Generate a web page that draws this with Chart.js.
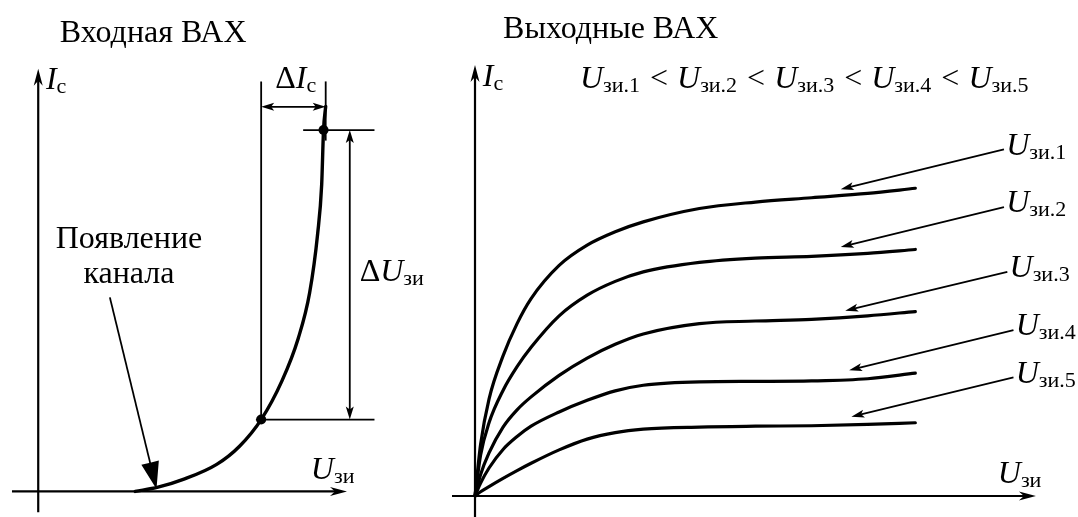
<!DOCTYPE html>
<html lang="ru">
<head>
<meta charset="utf-8">
<title>Входная и выходные ВАХ</title>
<script src="https://cdn.jsdelivr.net/npm/chart.js@4.4.1/dist/chart.umd.min.js"></script>
<style>
  html, body { margin: 0; padding: 0; background: #fff; }
  #wrap { position: relative; width: 1078px; height: 517px; overflow: hidden; }
  canvas { position: absolute; top: 0; }
  #inputChart { left: 0; }
  #outputChart { left: 440px; }
</style>
</head>
<body>
<div id="wrap">
  <canvas id="inputChart" width="440" height="517"></canvas>
  <canvas id="outputChart" width="638" height="517"></canvas>
</div>
<script>
// входная ВАХ: U зи -> I с (условные единицы)
const inputU = [3.14, 3.88, 4.72, 5.78, 6.52, 7.22, 7.89, 8.42, 8.79, 9.05, 9.18, 9.24, 9.31];
const inputI = [0, 0.10, 0.29, 0.64, 1.07, 1.70, 2.61, 3.62, 4.70, 6.10, 7.26, 8.55, 9.11];
// две отмеченные точки на кривой
const markU = [7.22, 9.24];
const markI = [1.70, 8.55];

// выходные ВАХ: U си -> I с для пяти напряжений затвора
const outputU = [0, 0.1, 0.25, 0.5, 0.75, 1, 1.5, 2, 2.5, 3, 4, 5, 6, 7, 7.85];
const outputI1 = [0, 1.2, 2.25, 3.25, 4.0, 4.58, 5.35, 5.82, 6.13, 6.36, 6.67, 6.82, 6.92, 7.02, 7.14];
const outputI2 = [0, 0.95, 1.7, 2.45, 3.0, 3.45, 4.18, 4.66, 4.98, 5.2, 5.42, 5.52, 5.56, 5.63, 5.72];
const outputI3 = [0, 0.5, 1.0, 1.6, 2.0, 2.3, 2.8, 3.2, 3.52, 3.76, 4.0, 4.06, 4.1, 4.18, 4.28];
const outputI4 = [0, 0.3, 0.65, 1.08, 1.38, 1.62, 1.95, 2.22, 2.44, 2.57, 2.65, 2.66, 2.67, 2.72, 2.85];
const outputI5 = [0, 0.1, 0.22, 0.41, 0.59, 0.76, 1.07, 1.32, 1.47, 1.55, 1.6, 1.62, 1.63, 1.66, 1.70];
const gateLabels = ['зи.1', 'зи.2', 'зи.3', 'зи.4', 'зи.5'];

const FONT = '"Liberation Serif", "DejaVu Serif", serif';
const SIZE = 32;
const SUB = 22;

function toPoints(xs, ys) {
  return xs.map((x, i) => ({ x: x, y: ys[i] }));
}

function fontFor(kind) {
  if (kind === 'i') return 'italic ' + SIZE + 'px ' + FONT;
  if (kind === 's') return SUB + 'px ' + FONT;
  return SIZE + 'px ' + FONT;
}

function partWidth(ctx, p) {
  if (p[1] === 'gap') return p[0];
  ctx.font = fontFor(p[1]);
  return ctx.measureText(p[0]).width;
}

function drawRich(ctx, parts, x, y, align) {
  ctx.save();
  ctx.fillStyle = '#000';
  ctx.textBaseline = 'alphabetic';
  let total = 0;
  parts.forEach(p => { total += partWidth(ctx, p); });
  let cx = x - (align === 'center' ? total / 2 : 0);
  parts.forEach(p => {
    if (p[1] !== 'gap') {
      ctx.font = fontFor(p[1]);
      ctx.fillText(p[0], cx, y + (p[1] === 's' ? 4 : 0));
    }
    cx += partWidth(ctx, p);
  });
  ctx.restore();
}

function head(ctx, x1, y1, x2, y2, len, half, notch) {
  const a = Math.atan2(y2 - y1, x2 - x1);
  ctx.save();
  ctx.translate(x2, y2);
  ctx.rotate(a);
  ctx.beginPath();
  ctx.moveTo(0, 0);
  ctx.lineTo(-len, -half);
  ctx.lineTo(-len + notch, 0);
  ctx.lineTo(-len, half);
  ctx.closePath();
  ctx.fill();
  ctx.restore();
}

// стиль наконечников: длина, полуширина, вырез
const HEADS = {
  axis: [17, 4.5, 5],
  small: [13, 4, 3],
  big: [27, 9, 0]
};

function segment(chart, s) {
  const ctx = chart.ctx;
  const sx = chart.scales.x, sy = chart.scales.y;
  const x1 = sx.getPixelForValue(s.from[0]), y1 = sy.getPixelForValue(s.from[1]);
  const x2 = sx.getPixelForValue(s.to[0]), y2 = sy.getPixelForValue(s.to[1]);
  const h = HEADS[s.head || 'small'];
  const d = Math.hypot(x2 - x1, y2 - y1);
  const ux = (x2 - x1) / d, uy = (y2 - y1) / d;
  const cut = h[0] * 0.6;
  ctx.save();
  ctx.strokeStyle = '#000';
  ctx.fillStyle = '#000';
  ctx.lineWidth = s.width || 1.8;
  ctx.beginPath();
  const a0 = s.ends === 'both' ? cut : 0;
  const a1 = s.ends === 'both' || s.ends === 'end' ? cut : 0;
  ctx.moveTo(x1 + ux * a0, y1 + uy * a0);
  ctx.lineTo(x2 - ux * a1, y2 - uy * a1);
  ctx.stroke();
  if (s.ends === 'end' || s.ends === 'both') head(ctx, x1, y1, x2, y2, h[0], h[1], h[2]);
  if (s.ends === 'both') head(ctx, x2, y2, x1, y1, h[0], h[1], h[2]);
  ctx.restore();
}

const schematic = {
  id: 'schematic',
  beforeDatasetsDraw(chart, args, opts) {
    (opts.axes || []).forEach(s => segment(chart, s));
  },
  afterDatasetsDraw(chart, args, opts) {
    (opts.segments || []).forEach(s => segment(chart, s));
    const sx = chart.scales.x, sy = chart.scales.y;
    (opts.texts || []).forEach(t => {
      drawRich(chart.ctx, t.parts, sx.getPixelForValue(t.at[0]), sy.getPixelForValue(t.at[1]), t.align);
    });
  }
};

function hiddenScales(xmin, xmax) {
  return {
    x: { type: 'linear', display: false, min: xmin, max: xmax },
    y: { type: 'linear', display: false, min: -0.487, max: 11.508 }
  };
}

function curve(xs, ys, width) {
  return {
    data: toPoints(xs, ys),
    showLine: true,
    borderColor: '#000',
    borderWidth: width,
    borderCapStyle: 'round',
    pointRadius: 0,
    cubicInterpolationMode: 'monotone',
    clip: false
  };
}

const common = {
  responsive: false,
  animation: false,
  events: [],
  layout: { padding: 0 },
  plugins: { legend: { display: false }, tooltip: { enabled: false } }
};

// ---- входная ВАХ ----
const inputChart = new Chart(document.getElementById('inputChart'), {
  type: 'scatter',
  data: {
    datasets: [
      curve(inputU, inputI, 3.4),
      {
        data: toPoints(markU, markI),
        showLine: false,
        pointRadius: 5,
        pointBackgroundColor: '#000',
        pointBorderWidth: 0,
        clip: false
      }
    ]
  },
  options: Object.assign({}, common, {
    scales: hiddenScales(-1.076, 12.85),
    plugins: Object.assign({}, common.plugins, {
      schematic: {
        axes: [
          { from: [-0.85, 0], to: [10, 0], ends: 'end', head: 'axis', width: 2.2 },
          { from: [0, -0.49], to: [0, 10], ends: 'end', head: 'axis', width: 2.2 }
        ],
        segments: [
          { from: [markU[0], markI[0]], to: [markU[0], 9.70] },
          { from: [9.31, 8.3], to: [9.31, 9.70] },
          { from: [markU[0], 9.10], to: [9.31, 9.10], ends: 'both' },
          { from: [8.58, markI[1]], to: [10.89, markI[1]] },
          { from: [7.05, markI[0]], to: [10.89, markI[0]] },
          { from: [10.09, markI[0]], to: [10.09, markI[1]], ends: 'both' },
          { from: [2.32, 4.59], to: [3.83, 0.06], ends: 'end', head: 'big' }
        ],
        texts: [
          { at: [0.7, 10.63], parts: [['Входная ВАХ', 'r']] },
          { at: [0.25, 9.51], parts: [['I', 'i'], ['с', 's']] },
          { at: [8.34, 9.54], parts: [['Δ', 'r'], ['I', 'i'], ['с', 's']], align: 'center' },
          { at: [10.41, 4.97], parts: [['Δ', 'r'], ['U', 'i'], ['зи', 's']] },
          { at: [8.83, 0.30], parts: [['U', 'i'], ['зи', 's']] },
          { at: [2.94, 5.75], parts: [['Появление', 'r']], align: 'center' },
          { at: [2.94, 4.94], parts: [['канала', 'r']], align: 'center' }
        ]
      }
    })
  }),
  plugins: [schematic]
});

// ---- выходные ВАХ ----
const outputSeries = [outputI1, outputI2, outputI3, outputI4, outputI5];
// указатели: начало у подписи -> остриё у кривой
const pointerFrom = [[9.43, 8.04], [9.43, 6.70], [9.49, 5.20], [9.60, 3.85], [9.60, 2.75]];
const pointerTo = [[6.52, 7.12], [6.52, 5.78], [6.60, 4.30], [6.67, 2.92], [6.71, 1.84]];

const eqParts = [];
gateLabels.forEach((g, i) => {
  if (i > 0) eqParts.push([2, 'gap'], [' < ', 'r'], [1, 'gap']);
  eqParts.push(['U', 'i'], [g, 's']);
});

const outputChart = new Chart(document.getElementById('outputChart'), {
  type: 'scatter',
  data: { datasets: outputSeries.map(s => curve(outputU, s, 3.2)) },
  options: Object.assign({}, common, {
    scales: hiddenScales(-0.624, 10.75),
    plugins: Object.assign({}, common.plugins, {
      schematic: {
        axes: [
          { from: [-0.41, 0], to: [10, 0], ends: 'end', head: 'axis', width: 2.2 },
          { from: [0, -0.49], to: [0, 10], ends: 'end', head: 'axis', width: 2.2 }
        ],
        segments: pointerFrom.map((f, i) => ({ from: f, to: pointerTo[i], ends: 'end' })),
        texts: [
          { at: [0.5, 10.63], parts: [['Выходные ВАХ', 'r']] },
          { at: [0.14, 9.51], parts: [['I', 'i'], ['с', 's']] },
          { at: [1.87, 9.47], parts: eqParts },
          { at: [9.32, 0.30], parts: [['U', 'i'], ['зи', 's']] }
        ].concat(gateLabels.map((g, i) => ({
          at: [pointerFrom[i][0] + 0.04, pointerFrom[i][1] - 0.12],
          parts: [['U', 'i'], [g, 's']]
        })))
      }
    })
  }),
  plugins: [schematic]
});
</script>
</body>
</html>
